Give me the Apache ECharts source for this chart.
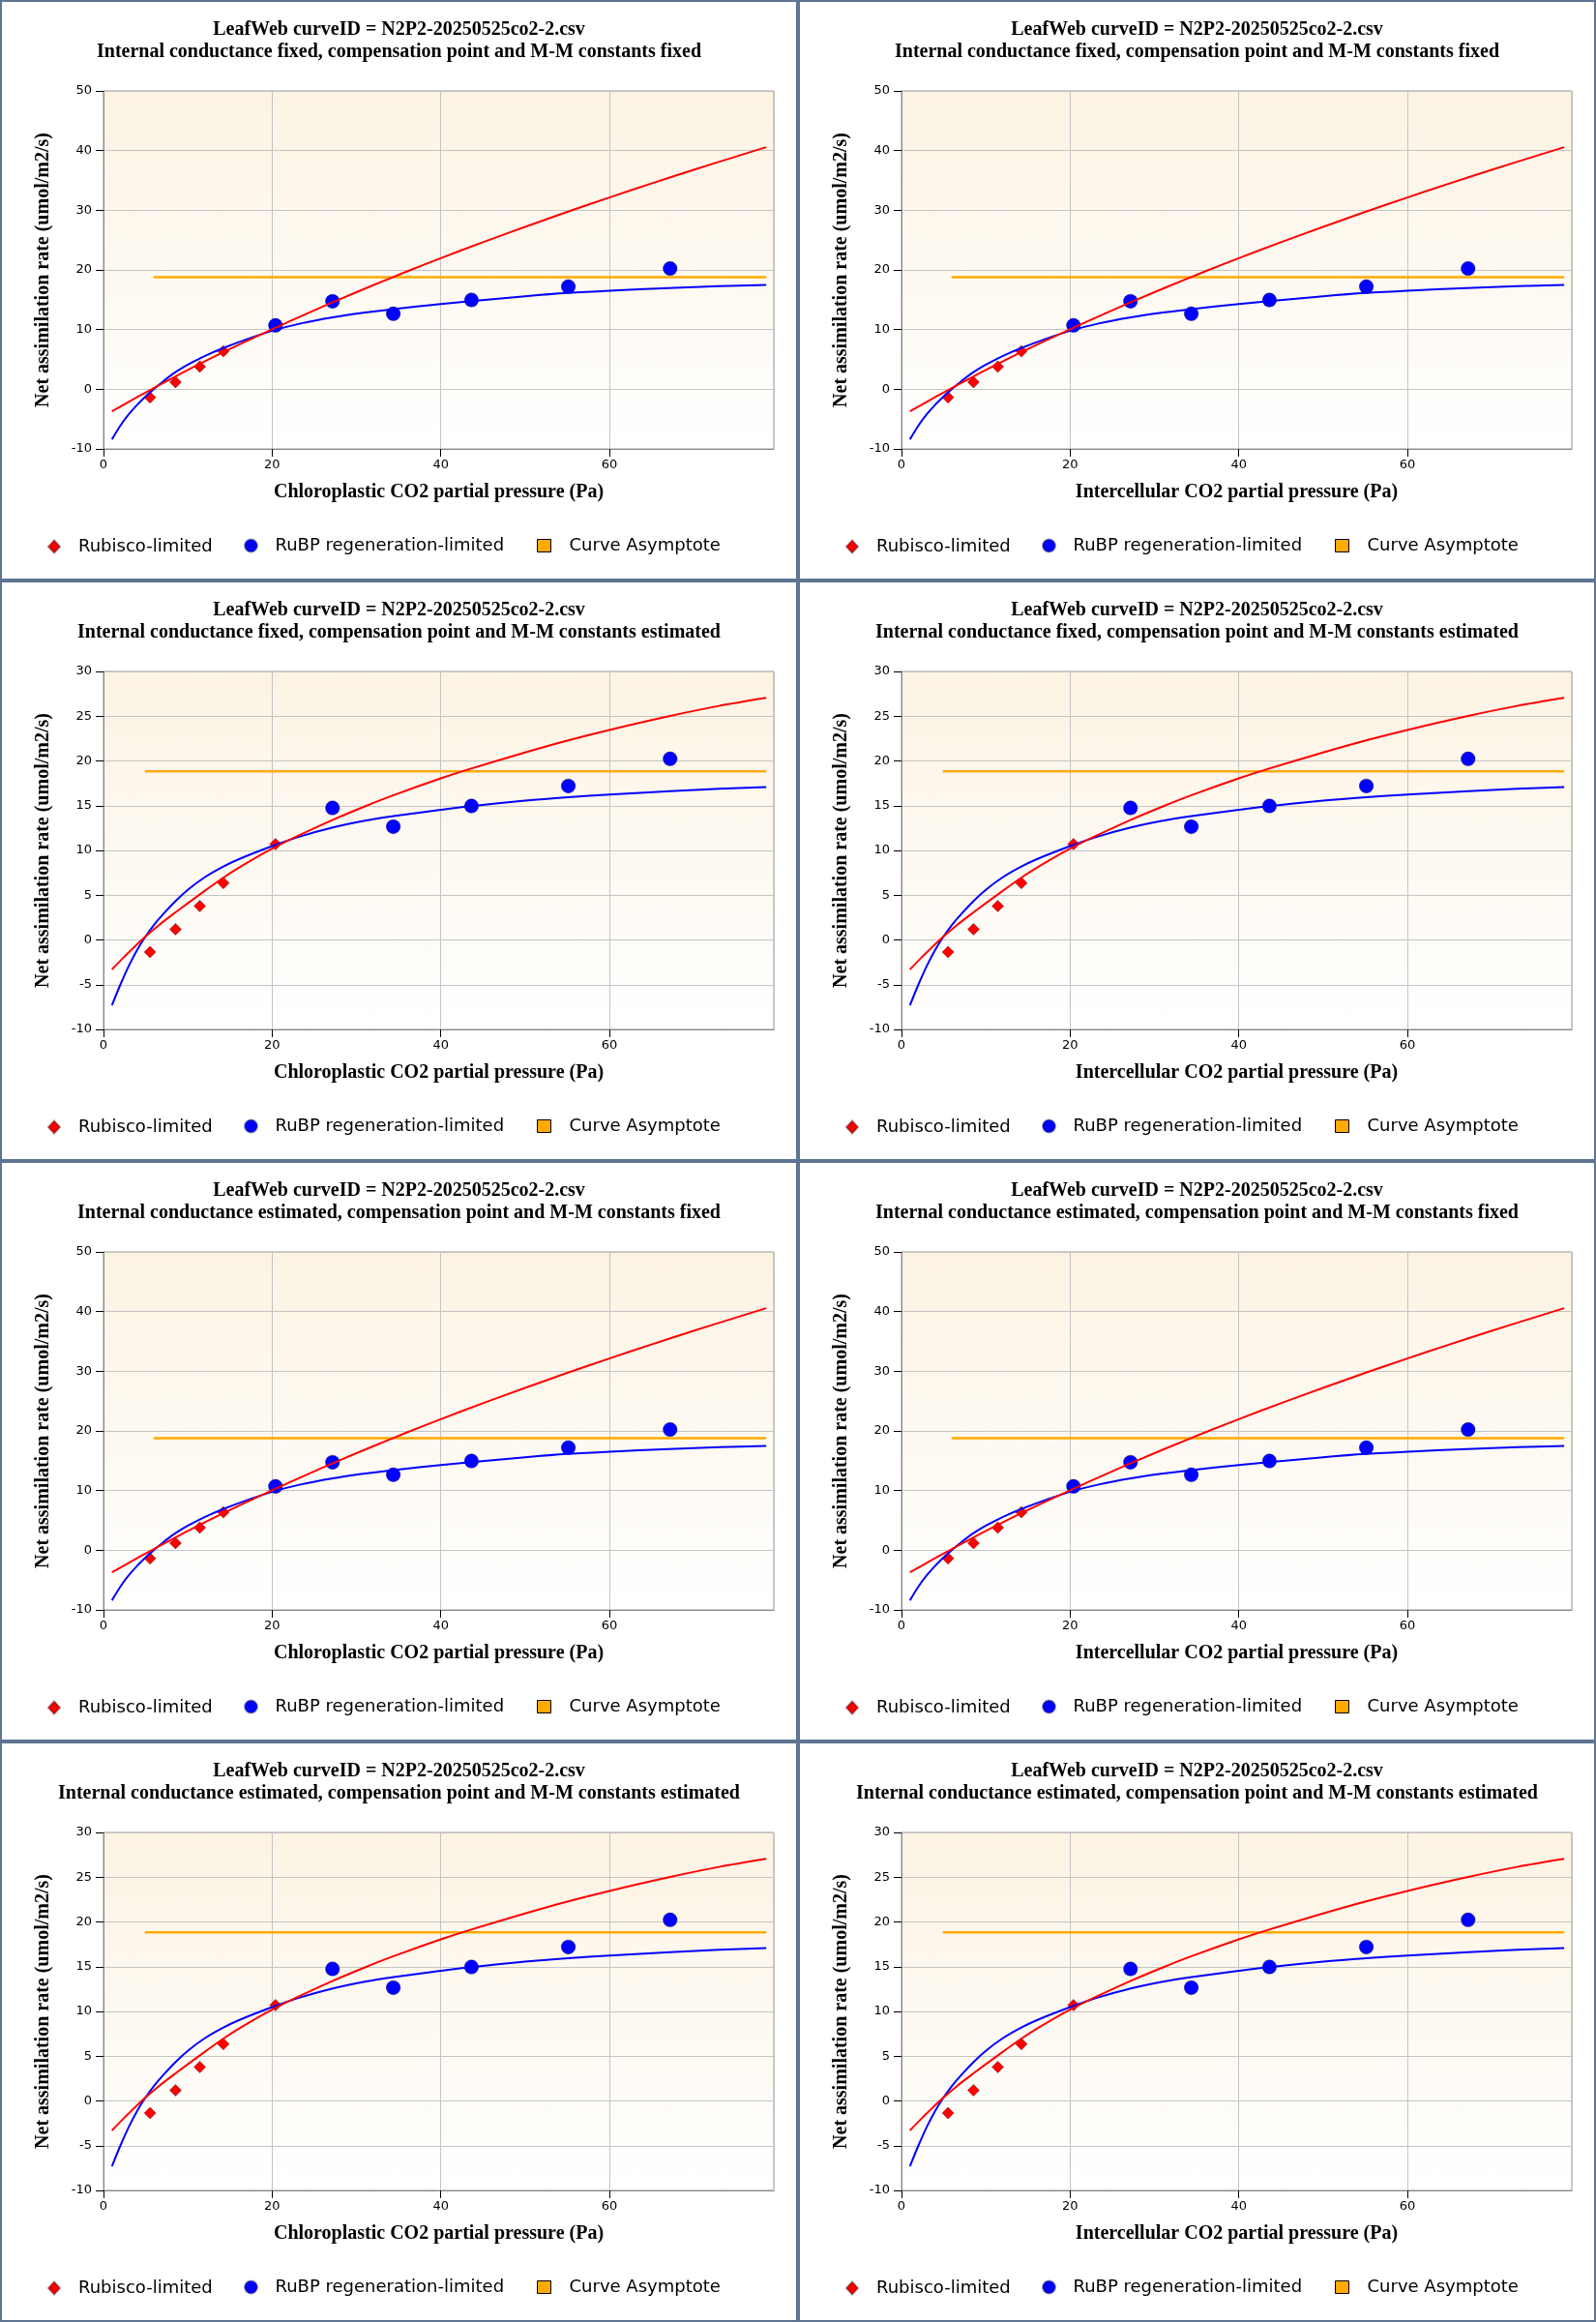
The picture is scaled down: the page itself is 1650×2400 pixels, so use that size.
<!DOCTYPE html>
<html>
<head>
<meta charset="utf-8">
<title>LeafWeb curve fits</title>
<script src="https://cdn.jsdelivr.net/npm/echarts@6/dist/echarts.min.js"></script>
<style>
body{margin:0;background:#fff;}
#wrap{position:relative;width:1650px;height:2400px;}
.panel{position:absolute;width:825px;height:600px;box-sizing:border-box;border:2px solid #5e7492;}
.chart{width:100%;height:100%;}
</style>
</head>
<body>
<div id="wrap"></div>
<script>
// measured points, same in every panel
var obsX = [5.52, 8.54, 11.42, 14.22, 20.4, 27.16, 34.37, 43.64, 55.13, 67.2];
var obsY = [-1.36, 1.19, 3.79, 6.36, 10.7, 14.75, 12.65, 14.97, 17.2, 20.23];
// which points are marked Rubisco-limited (the rest: RuBP regeneration-limited)
var rubiscoIdxFixed = [0, 1, 2, 3];
var rubiscoIdxEst = [0, 1, 2, 3, 4];

// fitted curves, compensation point and M-M constants fixed
var redFixX = [1, 3, 5.5, 8, 11, 14, 17, 20, 24, 28, 32, 36, 40, 45, 50, 55, 60, 65, 70, 75, 78.6];
var redFixY = [-3.7, -2.1, -0.15, 1.75, 3.95, 6.07, 8.1, 10.05, 12.61, 15.07, 17.45, 19.75, 21.97, 24.65, 27.22, 29.72, 32.15, 34.5, 36.78, 39.0, 40.57];
var blueFixX = [1, 2, 3, 4, 5, 5.7, 7, 8.5, 10, 11.4, 12.8, 14.2, 17, 20, 23.5, 27.2, 30.8, 34.4, 40, 43.6, 50, 55, 60, 67, 73, 78.6];
var blueFixY = [-8.4, -6.1, -4.2, -2.6, -1.2, -0.29, 1.24, 2.82, 4.11, 5.15, 6.07, 6.91, 8.39, 9.8, 11.06, 12.06, 12.82, 13.45, 14.29, 14.78, 15.58, 16.13, 16.53, 16.97, 17.27, 17.5];
var asymFixX = [5.94, 78.6];
var asymFixY = [18.8, 18.8];

// fitted curves, compensation point and M-M constants estimated
var redEstX = [1, 2.5, 4.5, 6.5, 8.5, 11.4, 14.2, 17, 20, 23, 27.2, 31, 34.4, 40, 43.6, 50, 55.1, 60, 67.2, 73, 78.6];
var redEstY = [-3.3, -1.85, -0.02, 1.6, 3.05, 5.07, 6.95, 8.6, 10.2, 11.6, 13.42, 14.92, 16.17, 18.05, 19.15, 20.95, 22.3, 23.47, 25.03, 26.15, 27.05];
var blueEstX = [1, 2, 3, 4, 5, 6, 7, 8.5, 10, 12, 14, 16, 20, 23, 27.2, 31, 34.4, 40, 43.6, 50, 55.1, 60, 67.2, 73, 78.6];
var blueEstY = [-7.3, -5.0, -2.9, -1.1, 0.4, 1.7, 2.8, 4.3, 5.6, 7.0, 8.1, 9.0, 10.48, 11.47, 12.56, 13.32, 13.83, 14.53, 14.95, 15.56, 15.94, 16.24, 16.62, 16.88, 17.09];
var asymEstX = [4.9, 78.6];
var asymEstY = [18.84, 18.84];

// axis ranges [min, max, interval]
var xRange = [0, 79.5, 20];
var yRangeFix = [-10, 50, 10];
var yRangeEst = [-10, 30, 5];

var curveTitle = 'LeafWeb curveID = N2P2-20250525co2-2.csv';
var rowTitles = [
    'Internal conductance fixed, compensation point and M-M constants fixed',
    'Internal conductance fixed, compensation point and M-M constants estimated',
    'Internal conductance estimated, compensation point and M-M constants fixed',
    'Internal conductance estimated, compensation point and M-M constants estimated'
];
var colXNames = ['Chloroplastic CO2 partial pressure (Pa)', 'Intercellular CO2 partial pressure (Pa)'];
var yName = 'Net assimilation rate (umol/m2/s)';

function pairs(xs, ys) {
    return xs.map(function (x, i) { return [x, ys[i]]; });
}

function splitPoints(idx) {
    var rub = [], rubp = [];
    obsX.forEach(function (x, i) {
        if (idx.indexOf(i) >= 0) rub.push([x, obsY[i]]);
        else rubp.push([x, obsY[i]]);
    });
    return {rub: rub, rubp: rubp};
}

function buildOption(row, col) {
    var est = (row % 2 === 1); // rows 2 and 4: constants estimated
    var pts = splitPoints(est ? rubiscoIdxEst : rubiscoIdxFixed);
    var yr = est ? yRangeEst : yRangeFix;
    var serif = 'Liberation Serif';
    var sans = 'DejaVu Sans';
    var legendText = function (pad) {
        return {fontFamily: sans, fontSize: 18, color: '#000', padding: [0, 0, 0, pad]};
    };
    return {
        animation: false,
        title: {
            text: curveTitle + '\n' + rowTitles[row],
            left: 'center',
            top: 17,
            padding: 0,
            textStyle: {fontFamily: serif, fontWeight: 'bold', fontSize: 20, lineHeight: 23, color: '#000'}
        },
        legend: [
            {left: 47, top: 554, padding: 0, itemWidth: 12, itemHeight: 13, selectedMode: false,
                data: [{name: 'Rubisco-limited', icon: 'diamond'}], textStyle: legendText(14)},
            {left: 250, top: 553, padding: 0, itemWidth: 14, itemHeight: 13, selectedMode: false,
                data: [{name: 'RuBP regeneration-limited', icon: 'circle'}], textStyle: legendText(13)},
            {left: 553, top: 553, padding: 0, itemWidth: 14, itemHeight: 13, selectedMode: false,
                data: [{name: 'Curve Asymptote', icon: 'rect',
                    itemStyle: {color: '#ffaa00', borderColor: '#000', borderWidth: 1}}],
                textStyle: legendText(14)}
        ],
        grid: {
            left: 105, right: 23, top: 92, bottom: 134,
            show: true,
            borderColor: '#999',
            borderWidth: 1,
            backgroundColor: new echarts.graphic.LinearGradient(0, 0, 0, 1, [
                {offset: 0, color: '#fcf3e3'},
                {offset: 1, color: '#ffffff'}
            ])
        },
        xAxis: {
            type: 'value',
            min: xRange[0], max: xRange[1], interval: xRange[2],
            name: colXNames[col],
            nameLocation: 'middle',
            nameGap: 35,
            nameTextStyle: {fontFamily: serif, fontWeight: 'bold', fontSize: 20, color: '#000'},
            axisLine: {show: true, onZero: false, lineStyle: {color: '#888', width: 1}},
            axisTick: {show: true, length: 8, lineStyle: {color: '#000'}},
            axisLabel: {
                margin: 10, fontFamily: sans, fontSize: 13, color: '#000', showMaxLabel: false,
                formatter: function (v) { return v % 20 === 0 ? v : ''; }
            },
            splitLine: {show: true, lineStyle: {color: '#c4c4c4', width: 1}}
        },
        yAxis: {
            type: 'value',
            min: yr[0], max: yr[1], interval: yr[2],
            name: yName,
            nameLocation: 'middle',
            nameGap: 52,
            nameTextStyle: {fontFamily: serif, fontWeight: 'bold', fontSize: 20, color: '#000'},
            axisLine: {show: true, onZero: false, lineStyle: {color: '#888', width: 1}},
            axisTick: {show: true, length: 8, lineStyle: {color: '#000'}},
            axisLabel: {margin: 12, fontFamily: sans, fontSize: 13, color: '#000'},
            splitLine: {show: true, lineStyle: {color: '#c4c4c4', width: 1}}
        },
        series: [
            {
                name: 'Rubisco-limited', type: 'scatter', symbol: 'diamond', symbolSize: 12, z: 2,
                itemStyle: {color: '#ff0000', opacity: 1, borderColor: 'rgba(90,0,0,0.45)', borderWidth: 1},
                data: pts.rub
            },
            {
                name: 'RuBP regeneration-limited', type: 'scatter', symbol: 'circle', symbolSize: 14.5, z: 2,
                itemStyle: {color: '#0000ff', opacity: 1, borderColor: 'rgba(0,0,90,0.4)', borderWidth: 1},
                data: pts.rubp
            },
            {
                name: 'Curve Asymptote', type: 'line', showSymbol: false, z: 3,
                lineStyle: {color: '#ffaa00', width: 2.5},
                itemStyle: {color: '#ffaa00'},
                data: pairs(est ? asymEstX : asymFixX, est ? asymEstY : asymFixY)
            },
            {
                name: 'RuBP fit', type: 'line', showSymbol: false, smooth: 0.3, z: 4,
                lineStyle: {color: '#0000ff', width: 2},
                data: pairs(est ? blueEstX : blueFixX, est ? blueEstY : blueFixY)
            },
            {
                name: 'Rubisco fit', type: 'line', showSymbol: false, smooth: 0.3, z: 5,
                lineStyle: {color: '#ff0000', width: 2},
                data: pairs(est ? redEstX : redFixX, est ? redEstY : redFixY)
            }
        ]
    };
}

var wrap = document.getElementById('wrap');
for (var row = 0; row < 4; row++) {
    for (var col = 0; col < 2; col++) {
        var panel = document.createElement('div');
        panel.className = 'panel';
        panel.style.left = (col * 825) + 'px';
        panel.style.top = (row * 600) + 'px';
        var box = document.createElement('div');
        box.className = 'chart';
        panel.appendChild(box);
        wrap.appendChild(panel);
        var myChart = echarts.init(box);
        myChart.setOption(buildOption(row, col));
    }
}
</script>
</body>
</html>
